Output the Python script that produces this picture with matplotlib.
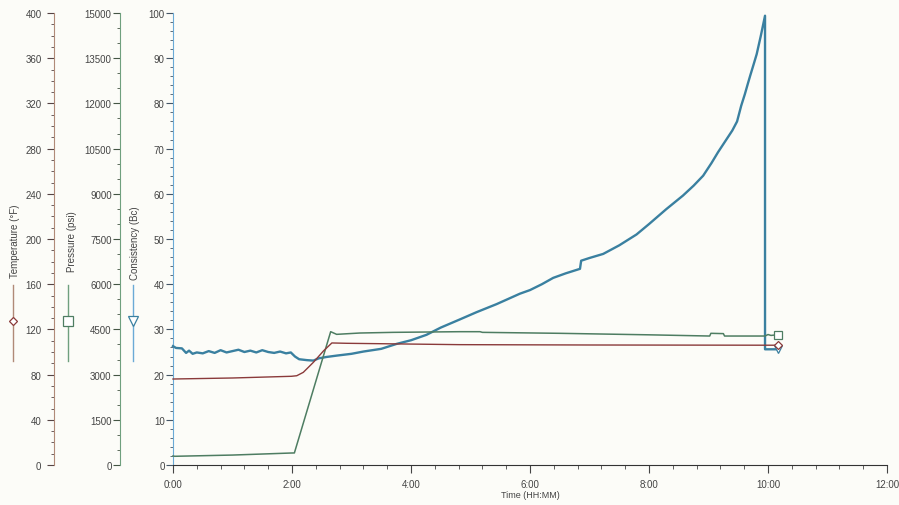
import matplotlib
matplotlib.use("Agg")
from matplotlib import pyplot as plt
from matplotlib.lines import Line2D
from matplotlib.ticker import MultipleLocator

# data (time in hours)
cons_t = [0.00, 0.05, 0.15, 0.22, 0.27, 0.33, 0.40, 0.50, 0.60, 0.70, 0.80, 0.90,
          1.00, 1.10, 1.20, 1.30, 1.40, 1.50, 1.60, 1.70, 1.80, 1.90, 1.98, 2.05,
          2.12, 2.25, 2.36, 2.45, 2.58, 2.75, 3.00, 3.20, 3.50, 3.76, 4.00, 4.26,
          4.50, 4.82, 5.10, 5.44, 5.83, 6.00, 6.20, 6.39, 6.60, 6.84, 6.86, 7.00,
          7.23, 7.50, 7.79, 8.00, 8.29, 8.57, 8.75, 8.91, 9.05, 9.16, 9.30, 9.40,
          9.48, 9.55, 9.61, 9.66, 9.70, 9.76, 9.81, 9.88, 9.95, 9.95, 10.17]
cons_v = [26.3, 25.9, 25.8, 24.8, 25.3, 24.6, 24.9, 24.7, 25.2, 24.8, 25.4, 24.9,
          25.2, 25.5, 25.0, 25.3, 24.9, 25.4, 25.0, 24.8, 25.1, 24.7, 24.9, 24.0,
          23.4, 23.2, 23.1, 23.6, 23.9, 24.2, 24.6, 25.1, 25.7, 26.8, 27.6, 28.8,
          30.4, 32.2, 33.8, 35.6, 37.9, 38.7, 40.0, 41.4, 42.4, 43.4, 45.2, 45.8,
          46.7, 48.6, 51.0, 53.3, 56.6, 59.6, 61.8, 64.0, 66.8, 69.2, 72.0, 74.0,
          76.0, 79.5, 82.0, 84.3, 86.1, 88.7, 90.9, 95.0, 99.4, 25.6, 25.6]

pres_t = [0.00, 0.03, 1.00, 1.99, 2.04, 2.65, 2.75, 3.14, 3.70, 4.82, 5.16, 5.20,
          6.50, 8.00, 9.02, 9.04, 9.25, 9.27, 9.95, 10.00, 10.05, 10.17]
pres_v = [300, 289, 330, 398, 400, 4424, 4336, 4380, 4402, 4424, 4424, 4402,
          4370, 4320, 4280, 4370, 4360, 4280, 4280, 4330, 4300, 4324]

temp_t = [0.00, 1.00, 1.99, 2.08, 2.19, 2.36, 2.53, 2.67, 2.92, 4.82, 7.00, 10.17]
temp_v = [76.1, 77.0, 78.5, 79.0, 82.0, 90.9, 101.0, 108.0, 107.7, 106.5, 106.2, 106.0]

hours = [0, 2, 4, 6, 8, 10, 12]
hour_labels = ["%d:00" % h for h in hours]

c_temp, c_pres, c_cons = "#8a3a3a", "#4e7d62", "#3a80a0"
s_temp, s_pres, s_cons = "#b08a78", "#6fa07e", "#6aaad6"
bg = "#fcfcf8"

plt.rcParams['font.family'] = ['Liberation Sans', 'DejaVu Sans']
fig = plt.figure(figsize=(8.99, 5.06), dpi=100, facecolor=bg)
W, H = 899.0, 506.0
ax = fig.add_axes([173/W, 40/H, 714/W, 452/H])
ax.set_facecolor("none")

# consistency (main axis)
ax.plot(cons_t, cons_v, color=c_cons, lw=1.7, marker="v", markevery=[-1],
        ms=6, mfc="white", mec=c_cons, mew=0.9, clip_on=False, zorder=4)
ax.set_xlim(0, 12); ax.set_ylim(0, 100)
ax.set_xticks(hours); ax.set_xticklabels(hour_labels)
ax.xaxis.set_minor_locator(MultipleLocator(0.4))
ax.yaxis.set_major_locator(MultipleLocator(10))
ax.yaxis.set_minor_locator(MultipleLocator(2))
for s in ["top", "right"]:
    ax.spines[s].set_visible(False)
ax.spines["left"].set_color(s_cons)
ax.spines["bottom"].set_color("#333333")
ax.tick_params(axis="x", which="major", length=6, pad=4, labelsize=7, colors="#444444")
ax.tick_params(axis="x", which="minor", length=3, color="#444444")
ax.tick_params(axis="y", which="major", length=5, pad=1, labelsize=7, color="#445566", labelcolor="#444444")
ax.tick_params(axis="y", which="minor", length=2.5, color="#445566")
ax.set_xlabel("Time (HH:MM)", fontsize=6.5, color="#444444", labelpad=1)

# pressure axis
axp = ax.twinx()
axp.set_facecolor("none")
axp.plot(pres_t, pres_v, color=c_pres, lw=1.1, marker="s", markevery=[-1],
         ms=6, mfc="white", mec=c_pres, mew=0.9, clip_on=False, zorder=3)
axp.set_ylim(0, 15000)
axp.yaxis.set_major_locator(MultipleLocator(1500))
axp.yaxis.set_minor_locator(MultipleLocator(500))
for s in ["top", "right", "bottom"]:
    axp.spines[s].set_visible(False)
axp.spines["left"].set_visible(True)
axp.spines["left"].set_position(("axes", -53/714))
axp.spines["left"].set_color(s_pres)
axp.yaxis.set_ticks_position("left")
axp.tick_params(axis="y", which="major", length=5, pad=1, labelsize=7, color="#445544", labelcolor="#444444")
axp.tick_params(axis="y", which="minor", length=2.5, color="#445544")

# temperature axis
axt = ax.twinx()
axt.set_facecolor("none")
axt.plot(temp_t, temp_v, color=c_temp, lw=1.0, marker="D", markevery=[-1],
         ms=4.5, mfc="white", mec=c_temp, mew=0.9, clip_on=False, zorder=3)
axt.set_ylim(0, 400)
axt.yaxis.set_major_locator(MultipleLocator(40))
axt.yaxis.set_minor_locator(MultipleLocator(10))
for s in ["top", "right", "bottom"]:
    axt.spines[s].set_visible(False)
axt.spines["left"].set_visible(True)
axt.spines["left"].set_position(("axes", -119/714))
axt.spines["left"].set_color(s_temp)
axt.yaxis.set_ticks_position("left")
axt.tick_params(axis="y", which="major", length=5, pad=4, labelsize=7, color="#554444", labelcolor="#444444")
axt.tick_params(axis="y", which="minor", length=2.5, color="#554444")

# axis titles with legend swatches
legend = [("Temperature (\u00b0F)", 15, 13, 278, c_temp, s_temp, "D", 4.5),
          ("Pressure (psi)", 72, 68, 272, c_pres, s_pres, "s", 6.5),
          ("Consistency (Bc)", 135, 133, 280, c_cons, s_cons, "v", 6.5)]
for label, tx, lx, ty, col, scol, mk, ms in legend:
    fig.text(tx/W, 1 - ty/H, label, rotation=90, ha="center", va="bottom",
             fontsize=7, color="#444444")
    fig.add_artist(Line2D([lx/W, lx/W], [1 - 286/H, 1 - 362/H], color=scol, lw=1.0,
                          transform=fig.transFigure))
    fig.add_artist(Line2D([lx/W], [1 - 322/H], marker=mk, ms=ms, mfc="white",
                          mec=col, mew=0.9, transform=fig.transFigure))

fig.savefig("out.png", dpi=100, facecolor=bg)
